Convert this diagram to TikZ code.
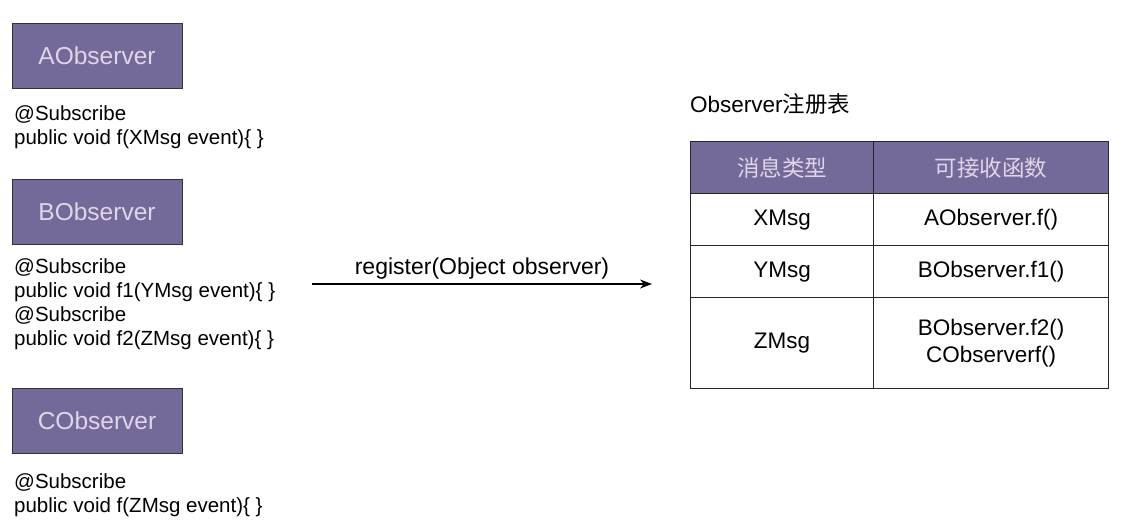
\documentclass[tikz,border=0pt]{standalone}
\usepackage{fontspec}
\setmainfont{Liberation Sans}
\newfontfamily\cjk{Noto Sans CJK SC}
\usetikzlibrary{arrows.meta}
\definecolor{obspurple}{RGB}{115,106,154}
\definecolor{obslight}{RGB}{225,213,231}
\tikzset{
	obsbox/.style={draw=black!80, line width=1pt, fill=obspurple, text=obslight, minimum width=170pt, minimum height=65pt, inner sep=0pt, font=\fontsize{24.5}{28}\selectfont}
}
\tikzset{
	codetext/.style={anchor=north west, inner sep=0pt, align=left, font=\fontsize{20.5}{24}\selectfont}
}
\tikzset{
	cell/.style={draw=black!85, line width=1.2pt, anchor=north west, inner sep=0pt, align=center, font=\fontsize{22.5}{27}\selectfont}
}
\tikzset{
	headcell/.style={cell, fill=obspurple, text=obslight, font=\fontsize{22.5}{27}\selectfont\cjk}
}

\begin{document}
\begin{tikzpicture}[>={Stealth[length=12pt, width=9pt]}, x=1pt, y=-1pt]
      \useasboundingbox (0,0) rectangle (1123,528);
      % observers
      \node[obsbox] (A) at (97,55.5) {AObserver};
      \node[codetext] (Acode) at (14,105) {@Subscribe\\public void f(XMsg event)\{ \}};
      \node[obsbox] (B) at (97,212) {BObserver};
      \node[codetext] (Bcode) at (14,258) {@Subscribe\\public void f1(YMsg event)\{ \}\\@Subscribe\\public void f2(ZMsg event)\{ \}};
      \node[obsbox] (C) at (97,421) {CObserver};
      \node[codetext] (Ccode) at (14,473) {@Subscribe\\public void f(ZMsg event)\{ \}};
      % register table
      \node[anchor=west, inner sep=0pt, font=\fontsize{22.5}{27}\selectfont] (title) at (690,104) {Observer{\cjk 注册表}};
      \node[headcell, minimum width=183pt, minimum height=52pt] (h1) at (690,141) {消息类型};
      \node[headcell, minimum width=235pt, minimum height=52pt] (h2) at (873,141) {可接收函数};
      \node[cell, minimum width=183pt, minimum height=52pt] (x1) at (690,193) {XMsg};
      \node[cell, minimum width=235pt, minimum height=52pt] (x2) at (873,193) {AObserver.f()};
      \node[cell, minimum width=183pt, minimum height=52pt] (y1) at (690,245) {YMsg};
      \node[cell, minimum width=235pt, minimum height=52pt] (y2) at (873,245) {BObserver.f1()};
      \node[cell, minimum width=183pt, minimum height=91pt] (z1) at (690,297) {ZMsg};
      \node[cell, minimum width=235pt, minimum height=91pt] (z2) at (873,297) {BObserver.f2()\\CObserverf()};
      % register arrow
      \coordinate (regfrom) at (312,284);
      \coordinate (regto) at (652,284);
      \draw[line width=1.3pt, ->] (regfrom) -- node[above, inner sep=4pt, font=\fontsize{23}{27}\selectfont] {register(Object observer)} (regto);
    \end{tikzpicture}
\end{document}
